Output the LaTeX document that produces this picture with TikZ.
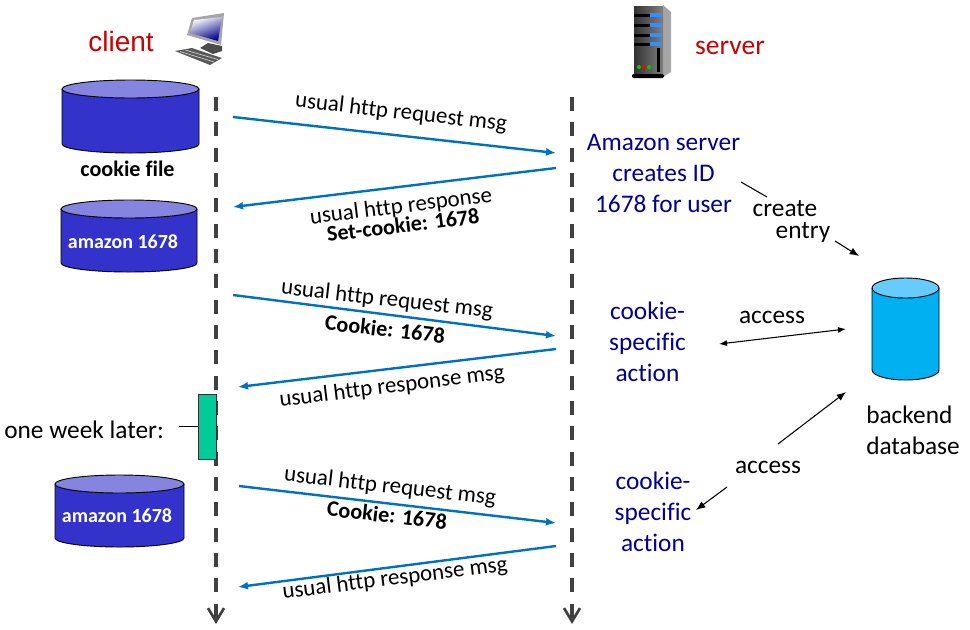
\documentclass[tikz,border=0pt]{standalone}
\usepackage{fontspec}
\setmainfont[Ligatures=NoCommon]{Carlito}
\newfontfamily\arialfont{Liberation Sans}
\usepackage{tikz}
\usetikzlibrary{arrows.meta,positioning}
\definecolor{msgblue}{HTML}{0070C0}
\definecolor{lifegray}{HTML}{404040}
\definecolor{serverred}{HTML}{CC0000}
\definecolor{actionblue}{HTML}{000099}
\definecolor{weekgreen}{HTML}{00CC99}
\definecolor{filebody}{HTML}{3333CC}
\definecolor{filetop}{HTML}{8585E0}
\definecolor{dbbody}{HTML}{00B0F0}
\definecolor{dbtop}{HTML}{66CCFF}
% left, top, right, bottom, height of the end, body colour, end colour
\newcommand{\drumshape}[7]{
	\draw[drumline,fill=#6] (#1,#2+#5) -- (#1,#4-#5)
		arc[start angle=180,end angle=0,x radius={(#3-#1)/2},y radius=#5] -- (#3,#2+#5);
	\draw[drumline,fill=#7] ({(#1+#3)/2},#2+#5) ellipse [x radius={(#3-#1)/2},y radius=#5];
}

\begin{document}
\begin{tikzpicture}
[ x=0.75pt,y=-0.75pt,
		drumline/.style={draw=black,line width=0.7pt},
		filetext/.style={text=white,font=\fontsize{15}{18}\selectfont\bfseries,inner sep=0pt},
		lifeline/.style={-{Straight Barb[length=10pt,width=12pt,line width=2pt]},lifegray,line width=3pt,dash pattern=on 10.5pt off 8.5pt},
		msg/.style={-{Latex[length=7.5pt,width=6pt]},msgblue,line width=1.8pt},
		blackarrow/.style={-{Latex[length=7pt,width=5.5pt]},line width=0.8pt},
		bothways/.style={{Latex[length=6pt,width=4.5pt]}-{Latex[length=6pt,width=4.5pt]},line width=0.8pt},
		tag/.style={font=\fontsize{17.2}{20}\selectfont,inner sep=0pt},
		boldtag/.style={font=\fontsize{16.6}{19}\selectfont\bfseries,inner sep=0pt},
		action/.style={align=center,text=actionblue,font=\fontsize{19}{23.25}\selectfont,inner sep=0pt},
		side/.style={font=\fontsize{19}{23.25}\selectfont,inner sep=0pt}]

	\useasboundingbox (0,0) rectangle (970,629);

	% end points of the lifelines
	\coordinate (clientTop) at (216,97);
	\coordinate (clientEnd) at (216,624);
	\coordinate (serverTop) at (572,97);
	\coordinate (serverEnd) at (572,624);
	\draw[lifeline] (clientTop) -- (clientEnd);
	\draw[lifeline] (serverTop) -- (serverEnd);

	% titles
	\node[text=serverred,font=\arialfont\fontsize{21}{24}\selectfont,inner sep=0pt] (client) at (121,41) {client};
	\node[text=serverred,font=\fontsize{20.6}{24}\selectfont,inner sep=0pt] (server) at (730,48) {server};

	% computer
	\fill[gray!70] (192,18) -- (224,13) -- (221,45) -- (187,35) -- cycle;
	\shade[left color=white,right color=blue!55!black,shading angle=20] (194,20) -- (222,17) -- (218,41) -- (190,33) -- cycle;
	\fill[black!70] (200,48) -- (208,43) -- (222,46) -- (222,51) -- (213,54) -- cycle;
	\fill[black!65] (175,51) -- (192,48) -- (222,58) -- (210,65) -- cycle;
	\draw[gray!35,line width=0.5pt] (180,51.5) -- (214,62) (185,50) -- (218,59.5);

	% server box
	\fill[gray!70] (663,5) -- (671,12) -- (671,72) -- (663,77) -- cycle;
	\shade[left color=black!80,right color=black!50] (634,6) rectangle (663,76);
	\foreach \slotY in {15,25,35,44} {
		\fill[black] (634,\slotY-1.5) rectangle (650,\slotY+1.5);
		\fill[blue!55!cyan!80!white] (650,\slotY-2) rectangle (662,\slotY+2);
	}
	\fill[black] (657,48) rectangle (660,72);
	\fill[green!80!black] (639,67) circle (2);
	\fill[red] (644,67) circle (2);
	\fill[green!80!black] (649,67) circle (2);
	\fill[black,rounded corners=1pt] (632,74) rectangle (664,78);

	% cookie files
	\drumshape{62}{80}{199}{153}{9}{filebody}{filetop}
	\node[font=\fontsize{16.6}{19}\selectfont\bfseries,inner sep=0pt] (cookieLabel) at (127.5,169) {cookie file};
	\drumshape{61}{200}{197}{272}{9}{filebody}{filetop}
	\node[filetext] (amazonFirst) at (123,242) {amazon 1678};
	\drumshape{55}{475}{184}{547}{9}{filebody}{filetop}
	\node[filetext] (amazonLater) at (117,516) {amazon 1678};

	% one week later
	\node[side] (later) at (84,430) {one week later:};
	\node[draw=black!80,line width=0.7pt,fill=weekgreen,minimum width=18*0.75pt,minimum height=65*0.75pt,inner sep=0pt] (week) at (207.5,426.5) {};
	\draw[line width=0.7pt] (week.west) -- ++(-19,0) coordinate (weekTick);

	% messages
	\coordinate (reqOneA) at (233,117);
	\coordinate (reqOneB) at (556,153);
	\coordinate (resOneA) at (556,168);
	\coordinate (resOneB) at (233,207);
	\coordinate (reqTwoA) at (233,295);
	\coordinate (reqTwoB) at (556,336);
	\coordinate (resTwoA) at (556,349);
	\coordinate (resTwoB) at (238,387);
	\coordinate (reqThreeA) at (239,486);
	\coordinate (reqThreeB) at (556,523);
	\coordinate (resThreeA) at (556,546);
	\coordinate (resThreeB) at (238,587);
	\draw[msg] (reqOneA) -- (reqOneB);
	\draw[msg] (resOneA) -- (resOneB);
	\draw[msg] (reqTwoA) -- (reqTwoB);
	\draw[msg] (resTwoA) -- (resTwoB);
	\draw[msg] (reqThreeA) -- (reqThreeB);
	\draw[msg] (resThreeA) -- (resThreeB);

	\node[tag,rotate=-6.5] (reqOne) at (401,113) {usual http request msg};
	\node[tag,rotate=7] (resOne) at (401,207) {usual http response};
	\node[boldtag,rotate=7] (setCookie) at (403,225) {Set-cookie: 1678};
	\node[tag,rotate=-6.5] (reqTwo) at (387,300) {usual http request msg};
	\node[boldtag,rotate=-6.5] (cookieTwo) at (385,329) {Cookie: 1678};
	\node[tag,rotate=7] (resTwo) at (392,387) {usual http response msg};
	\node[tag,rotate=-6.5] (reqThree) at (390,487) {usual http request msg};
	\node[boldtag,rotate=-6.5] (cookieThree) at (387,515) {Cookie: 1678};
	\node[tag,rotate=7] (resThree) at (395,579) {usual http response msg};

	% server side
	\node[action] (createId) at (663.5,173.5) {Amazon server\\creates ID\\1678 for user};
	\node[action] (actionOne) at (647.5,342) {cookie-\\specific\\action};
	\node[action] (actionTwo) at (653,512) {cookie-\\specific\\action};

	\drumshape{872}{278}{939}{380}{10}{dbbody}{dbtop}
	\node[side,align=left] (backend) at (913,430) {backend\\database};

	\node[side] (create) at (785,209) {create};
	\node[side] (entry) at (803,233) {entry};
	\node[side] (accessOne) at (772,317) {access};
	\node[side] (accessTwo) at (768,467) {access};

	\coordinate (createA) at (741,182);
	\coordinate (createB) at (767,197);
	\coordinate (entryA) at (835,241);
	\coordinate (entryB) at (859,256);
	\coordinate (accessOneA) at (719,344);
	\coordinate (accessOneB) at (846,329);
	\coordinate (accessUpA) at (778,444);
	\coordinate (accessUpB) at (846,392);
	\coordinate (accessDownA) at (727,487);
	\coordinate (accessDownB) at (696,510);
	\draw[line width=0.8pt] (createA) -- (createB);
	\draw[blackarrow] (entryA) -- (entryB);
	\draw[bothways] (accessOneA) -- (accessOneB);
	\draw[blackarrow] (accessUpA) -- (accessUpB);
	\draw[blackarrow] (accessDownA) -- (accessDownB);
\end{tikzpicture}
\end{document}
